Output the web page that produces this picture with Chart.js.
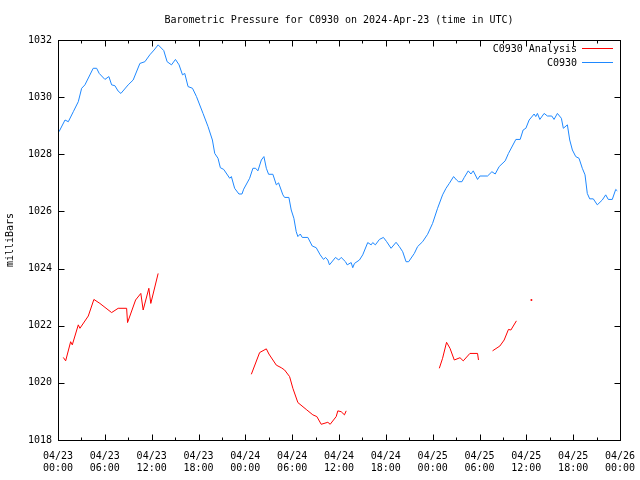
<!DOCTYPE html>
<html><head><meta charset="utf-8">
<script src="https://cdn.jsdelivr.net/npm/chart.js@4/dist/chart.umd.min.js"></script>
<style>html,body{margin:0;padding:0;background:#fff}#wrap{width:640px;height:480px}</style>
</head><body><div id="wrap"><canvas id="c" width="640" height="480"></canvas></div>
<script>
// Hours since 2024-04-23 00:00 UTC
const stationHours = [0.13,0.9,1.32,1.96,2.6,3.03,3.45,4.51,4.95,5.28,6.01,6.52,6.87,7.29,7.71,8.06,8.99,9.63,10.49,11.13,11.76,12.31,12.83,13.55,13.98,14.54,15.05,15.51,15.95,16.24,16.66,17.23,17.74,18.58,19.22,19.78,20.08,20.5,20.8,21.23,22.0,22.21,22.63,23.18,23.57,23.79,24.55,24.97,25.32,25.61,26.05,26.38,26.69,26.98,27.53,27.97,28.26,28.81,29.03,29.58,29.88,30.22,30.52,30.73,31.04,31.29,32.01,32.57,33.08,33.59,34.02,34.27,34.57,34.78,35.55,35.97,36.28,36.83,37.05,37.56,37.76,37.98,38.62,39.04,39.68,40.12,40.32,40.66,41.18,41.69,42.11,42.67,43.31,43.73,44.16,44.59,44.92,45.65,46.07,46.71,47.35,47.99,48.63,49.27,49.71,50.13,50.68,51.06,51.32,51.75,52.05,52.56,52.9,53.2,53.75,54.05,55.03,55.59,56.01,56.52,57.29,57.71,58.66,59.21,59.59,59.94,60.36,61.0,61.21,61.42,61.73,62.28,62.7,63.26,63.55,63.98,64.49,64.74,65.26,65.56,65.9,66.33,66.75,67.17,67.52,67.81,68.12,68.58,69.09,69.73,70.17,70.5,71.01,71.45,71.65];
const stationPressure = [1028.79,1029.2,1029.14,1029.49,1029.84,1030.31,1030.43,1031.01,1031.01,1030.83,1030.62,1030.72,1030.43,1030.4,1030.21,1030.13,1030.43,1030.6,1031.18,1031.24,1031.48,1031.65,1031.83,1031.63,1031.24,1031.13,1031.32,1031.13,1030.78,1030.83,1030.37,1030.31,1030.02,1029.43,1028.97,1028.5,1028.03,1027.86,1027.53,1027.47,1027.16,1027.22,1026.81,1026.61,1026.61,1026.78,1027.16,1027.51,1027.51,1027.42,1027.8,1027.92,1027.51,1027.3,1027.3,1026.93,1027.0,1026.58,1026.49,1026.49,1026.05,1025.76,1025.29,1025.12,1025.21,1025.09,1025.09,1024.79,1024.73,1024.48,1024.32,1024.39,1024.3,1024.13,1024.39,1024.3,1024.39,1024.24,1024.13,1024.21,1024.03,1024.18,1024.3,1024.48,1024.91,1024.83,1024.91,1024.83,1025.02,1025.09,1024.94,1024.71,1024.92,1024.77,1024.59,1024.24,1024.24,1024.53,1024.77,1024.94,1025.2,1025.58,1026.11,1026.58,1026.81,1026.98,1027.22,1027.1,1027.04,1027.04,1027.19,1027.42,1027.31,1027.42,1027.12,1027.24,1027.24,1027.39,1027.31,1027.57,1027.77,1028.03,1028.52,1028.52,1028.85,1028.91,1029.2,1029.41,1029.32,1029.43,1029.22,1029.43,1029.34,1029.34,1029.22,1029.43,1029.26,1028.91,1029.03,1028.5,1028.15,1027.92,1027.86,1027.51,1027.28,1026.63,1026.44,1026.44,1026.23,1026.4,1026.58,1026.42,1026.42,1026.77,1026.72];

// Analysis series; null marks a gap
const analysisHours = [0.68,0.98,1.62,1.83,2.6,2.81,3.88,4.6,5.37,6.87,7.71,8.79,8.91,9.94,10.61,10.91,11.64,11.89,12.83,18.0,
  24.77,25.83,26.69,27.02,27.97,28.6,29.03,29.67,30.09,30.73,31.8,32.65,33.16,33.72,34.57,34.87,35.64,35.85,36.28,36.7,36.92,42.0,
  48.85,49.27,49.78,50.22,50.77,51.5,51.92,52.77,53.75,53.87,54.8,
  55.67,56.61,57.16,57.71,58.02,58.73,59.7,60.65,61.5];
const analysisPressure = [1020.89,1020.77,1021.44,1021.33,1022.03,1021.91,1022.34,1022.92,1022.78,1022.46,1022.61,1022.61,1022.11,1022.9,1023.13,1022.55,1023.31,1022.78,1023.83,null,
  1020.3,1021.06,1021.19,1021.01,1020.62,1020.53,1020.45,1020.22,1019.81,1019.31,1019.07,1018.88,1018.82,1018.55,1018.62,1018.55,1018.82,1019.02,1018.99,1018.88,1019.02,null,
  1020.51,1020.86,1021.42,1021.21,1020.8,1020.88,1020.77,1021.03,1021.03,1020.8,null,
  1021.12,1021.29,1021.5,1021.87,1021.85,1022.17,null,1022.9,null];

const yTicks = [1018,1020,1022,1024,1026,1028,1030,1032];
const dayLabels = ['04/23','04/24','04/25','04/26'];
const hourLabels = ['00:00','06:00','12:00','18:00'];
const titleText = 'Barometric Pressure for C0930 on 2024-Apr-23 (time in UTC)';

const FONT = '"DejaVu Sans Mono", "Liberation Mono", monospace';

const toXY = (xs, ys) => xs.map((x, i) => ({x: x, y: ys[i]}));
const analysisData = toXY(analysisHours, analysisPressure);

const framePlugin = {
  id: 'frame',
  afterDraw(chart) {
    const {ctx, chartArea: a, scales} = chart;
    const L = Math.round(a.left) + 0.5, R = Math.round(a.right) + 0.5;
    const T = Math.round(a.top) + 0.5, B = Math.round(a.bottom) + 0.5;
    ctx.save();
    ctx.strokeStyle = '#000';
    ctx.lineWidth = 1;
    ctx.beginPath();
    for (let h = 0; h <= 72; h += 3) {
      const x = Math.round(scales.x.getPixelForValue(h)) + 0.5;
      const len = (h % 6 === 0) ? 6 : 3;
      ctx.moveTo(x, B); ctx.lineTo(x, B - len);
      ctx.moveTo(x, T); ctx.lineTo(x, T + len);
    }
    yTicks.forEach(v => {
      const y = Math.round(scales.y.getPixelForValue(v)) + 0.5;
      ctx.moveTo(L, y); ctx.lineTo(L + 6, y);
      ctx.moveTo(R, y); ctx.lineTo(R - 6, y);
    });
    ctx.stroke();
    ctx.strokeRect(L, T, R - L, B - T);
    ctx.font = '10px ' + FONT;
    ctx.fillStyle = '#000';
    // title centred over plot area
    ctx.textAlign = 'center';
    ctx.textBaseline = 'middle';
    ctx.fillText(titleText, (a.left + a.right) / 2, 20.5);
    // legend inside plot
    ctx.textAlign = 'right';
    const items = [[chart.data.datasets[0].label, chart.data.datasets[0].borderColor, 49],
                   [chart.data.datasets[1].label, chart.data.datasets[1].borderColor, 63]];
    items.forEach(([t, c, y]) => {
      ctx.fillStyle = '#000';
      ctx.fillText(t, 577, y);
      ctx.strokeStyle = c;
      ctx.beginPath();
      ctx.moveTo(582, y - 0.5); ctx.lineTo(613, y - 0.5);
      ctx.stroke();
    });
    ctx.restore();
  }
};

new Chart(document.getElementById('c'), {
  type: 'line',
  data: {
    datasets: [
      {
        label: 'C0930 Analysis',
        data: analysisData,
        borderColor: '#ff0000',
        backgroundColor: '#ff0000',
        borderWidth: 1,
        spanGaps: false,
        pointRadius: (c) => {
          const i = c.dataIndex, d = analysisPressure;
          if (d[i] === null) return 0;
          const prev = i > 0 ? d[i - 1] : null, next = i < d.length - 1 ? d[i + 1] : null;
          return (prev === null && next === null) ? 1 : 0;
        },
        pointBorderWidth: 0,
        tension: 0
      },
      {
        label: 'C0930',
        data: toXY(stationHours, stationPressure),
        borderColor: '#1e88ff',
        backgroundColor: '#1e88ff',
        borderWidth: 1,
        pointRadius: 0,
        tension: 0
      }
    ]
  },
  options: {
    responsive: false,
    animation: false,
    layout: {padding: {left: 0, right: 0, top: 40, bottom: 0}},
    plugins: {
      legend: {display: false},
      tooltip: {enabled: false},
      title: {display: false}
    },
    scales: {
      x: {
        type: 'linear',
        min: 0, max: 72,
        grid: {display: false, drawTicks: false},
        border: {display: false},
        afterFit: (s) => { s.height = 40; s.paddingLeft = 0; s.paddingRight = 20; },
        afterBuildTicks: (s) => { s.ticks = [0,6,12,18,24,30,36,42,48,54,60,66,72].map(v => ({value: v})); },
        ticks: {
          autoSkip: false, maxRotation: 0, padding: 10,
          color: '#000',
          font: {family: FONT, size: 10, lineHeight: 1.25},
          callback: (v) => [dayLabels[Math.floor(v / 24)], hourLabels[(v % 24) / 6]]
        }
      },
      y: {
        type: 'linear',
        min: 1018, max: 1032,
        grid: {display: false, drawTicks: false},
        border: {display: false},
        afterFit: (s) => { s.width = 58; },
        afterBuildTicks: (s) => { s.ticks = yTicks.map(v => ({value: v})); },
        title: {
          display: true, text: 'milliBars', color: '#000',
          font: {family: FONT, size: 10}, padding: {top: 4, bottom: 0}
        },
        ticks: {
          padding: 6, color: '#000',
          font: {family: FONT, size: 10},
          callback: (v) => String(v)
        }
      }
    }
  },
  plugins: [framePlugin]
});
</script>
</body></html>
